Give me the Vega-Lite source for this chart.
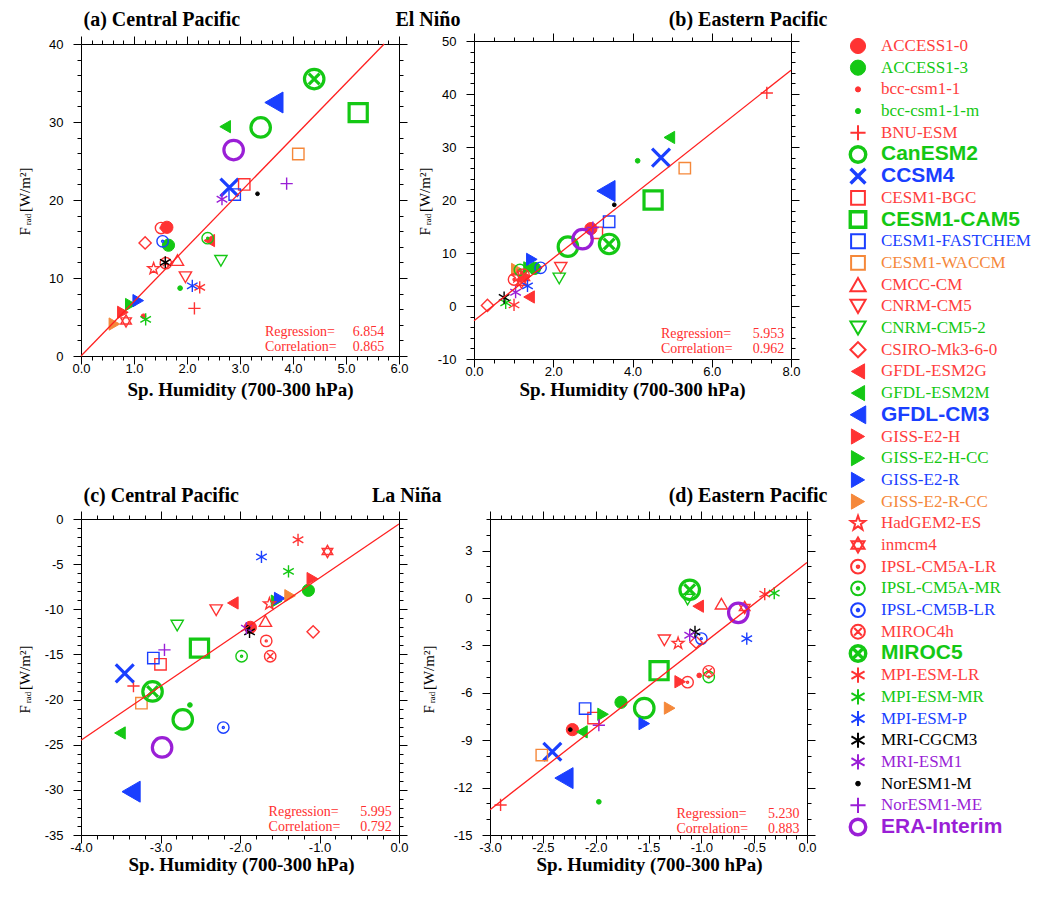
{
"$schema":"https://vega.github.io/schema/vega-lite/v6.json",
"background":"white",
"padding":{"left":16,"top":8,"right":0,"bottom":0},
"datasets":{
"models":[{"m":"ACCESS1-0"},{"m":"ACCESS1-3"},{"m":"bcc-csm1-1"},{"m":"bcc-csm1-1-m"},{"m":"BNU-ESM"},{"m":"CanESM2"},{"m":"CCSM4"},{"m":"CESM1-BGC"},{"m":"CESM1-CAM5"},{"m":"CESM1-FASTCHEM"},{"m":"CESM1-WACCM"},{"m":"CMCC-CM"},{"m":"CNRM-CM5"},{"m":"CNRM-CM5-2"},{"m":"CSIRO-Mk3-6-0"},{"m":"GFDL-ESM2G"},{"m":"GFDL-ESM2M"},{"m":"GFDL-CM3"},{"m":"GISS-E2-H"},{"m":"GISS-E2-H-CC"},{"m":"GISS-E2-R"},{"m":"GISS-E2-R-CC"},{"m":"HadGEM2-ES"},{"m":"inmcm4"},{"m":"IPSL-CM5A-LR"},{"m":"IPSL-CM5A-MR"},{"m":"IPSL-CM5B-LR"},{"m":"MIROC4h"},{"m":"MIROC5"},{"m":"MPI-ESM-LR"},{"m":"MPI-ESM-MR"},{"m":"MPI-ESM-P"},{"m":"MRI-CGCM3"},{"m":"MRI-ESM1"},{"m":"NorESM1-M"},{"m":"NorESM1-ME"},{"m":"ERA-Interim"}],
"pts":[
{"p":"a","m":"ACCESS1-0","x":1.62,"y":16.5},{"p":"a","m":"ACCESS1-3","x":1.65,"y":14.2},{"p":"a","m":"bcc-csm1-1","x":1.18,"y":5.1},{"p":"a","m":"bcc-csm1-1-m","x":1.87,"y":8.7},{"p":"a","m":"BNU-ESM","x":2.14,"y":6.1},{"p":"a","m":"CanESM2","x":3.39,"y":29.3},{"p":"a","m":"CCSM4","x":2.8,"y":21.6},{"p":"a","m":"CESM1-BGC","x":3.08,"y":22.0},{"p":"a","m":"CESM1-CAM5","x":5.23,"y":31.2},{"p":"a","m":"CESM1-FASTCHEM","x":2.9,"y":20.7},{"p":"a","m":"CESM1-WACCM","x":4.1,"y":25.9},{"p":"a","m":"CMCC-CM","x":1.82,"y":12.3},{"p":"a","m":"CNRM-CM5","x":1.97,"y":10.1},{"p":"a","m":"CNRM-CM5-2","x":2.64,"y":12.2},{"p":"a","m":"CSIRO-Mk3-6-0","x":1.21,"y":14.5},{"p":"a","m":"GFDL-ESM2G","x":2.42,"y":14.8},{"p":"a","m":"GFDL-ESM2M","x":2.72,"y":29.4},{"p":"a","m":"GFDL-CM3","x":3.64,"y":32.5},{"p":"a","m":"GISS-E2-H","x":0.79,"y":5.6},{"p":"a","m":"GISS-E2-H-CC","x":0.94,"y":6.6},{"p":"a","m":"GISS-E2-R","x":1.08,"y":7.1},{"p":"a","m":"GISS-E2-R-CC","x":0.63,"y":4.1},{"p":"a","m":"HadGEM2-ES","x":1.37,"y":11.2},{"p":"a","m":"inmcm4","x":0.85,"y":4.5},{"p":"a","m":"IPSL-CM5A-LR","x":1.51,"y":16.4},{"p":"a","m":"IPSL-CM5A-MR","x":2.39,"y":15.1},{"p":"a","m":"IPSL-CM5B-LR","x":1.54,"y":14.7},{"p":"a","m":"MIROC4h","x":1.6,"y":11.9},{"p":"a","m":"MIROC5","x":4.4,"y":35.5},{"p":"a","m":"MPI-ESM-LR","x":2.24,"y":8.8},{"p":"a","m":"MPI-ESM-MR","x":1.22,"y":4.7},{"p":"a","m":"MPI-ESM-P","x":2.1,"y":9.0},{"p":"a","m":"MRI-CGCM3","x":1.59,"y":12.0},{"p":"a","m":"MRI-ESM1","x":2.66,"y":20.1},{"p":"a","m":"NorESM1-M","x":3.33,"y":20.8},{"p":"a","m":"NorESM1-ME","x":3.88,"y":22.1},{"p":"a","m":"ERA-Interim","x":2.88,"y":26.4},
{"p":"b","m":"ACCESS1-0","x":2.95,"y":14.6},{"p":"b","m":"ACCESS1-3","x":1.53,"y":7.1},{"p":"b","m":"bcc-csm1-1","x":1.25,"y":5.5},{"p":"b","m":"bcc-csm1-1-m","x":4.13,"y":27.4},{"p":"b","m":"BNU-ESM","x":7.39,"y":40.2},{"p":"b","m":"CanESM2","x":2.37,"y":11.2},{"p":"b","m":"CCSM4","x":4.72,"y":28.0},{"p":"b","m":"CESM1-BGC","x":3.1,"y":13.8},{"p":"b","m":"CESM1-CAM5","x":4.52,"y":20.0},{"p":"b","m":"CESM1-FASTCHEM","x":3.41,"y":15.9},{"p":"b","m":"CESM1-WACCM","x":5.32,"y":26.0},{"p":"b","m":"CMCC-CM","x":1.25,"y":5.8},{"p":"b","m":"CNRM-CM5","x":2.19,"y":7.2},{"p":"b","m":"CNRM-CM5-2","x":2.15,"y":5.2},{"p":"b","m":"CSIRO-Mk3-6-0","x":0.34,"y":0.1},{"p":"b","m":"GFDL-ESM2G","x":1.39,"y":1.7},{"p":"b","m":"GFDL-ESM2M","x":4.93,"y":31.8},{"p":"b","m":"GFDL-CM3","x":3.33,"y":21.7},{"p":"b","m":"GISS-E2-H","x":1.3,"y":5.6},{"p":"b","m":"GISS-E2-H-CC","x":1.39,"y":7.2},{"p":"b","m":"GISS-E2-R","x":1.46,"y":8.8},{"p":"b","m":"GISS-E2-R-CC","x":1.08,"y":6.9},{"p":"b","m":"HadGEM2-ES","x":1.1,"y":5.5},{"p":"b","m":"inmcm4","x":1.2,"y":4.5},{"p":"b","m":"IPSL-CM5A-LR","x":1.01,"y":5.0},{"p":"b","m":"IPSL-CM5A-MR","x":1.16,"y":6.8},{"p":"b","m":"IPSL-CM5B-LR","x":1.68,"y":7.2},{"p":"b","m":"MIROC4h","x":1.25,"y":5.9},{"p":"b","m":"MIROC5","x":3.41,"y":11.7},{"p":"b","m":"MPI-ESM-LR","x":1.01,"y":0.2},{"p":"b","m":"MPI-ESM-MR","x":0.8,"y":0.6},{"p":"b","m":"MPI-ESM-P","x":1.35,"y":3.8},{"p":"b","m":"MRI-CGCM3","x":0.76,"y":1.6},{"p":"b","m":"MRI-ESM1","x":1.05,"y":2.6},{"p":"b","m":"NorESM1-M","x":3.54,"y":19.1},{"p":"b","m":"NorESM1-ME","x":3.0,"y":14.8},{"p":"b","m":"ERA-Interim","x":2.74,"y":12.6},
{"p":"c","m":"ACCESS1-0","x":-1.87,"y":-12.0},{"p":"c","m":"ACCESS1-3","x":-1.14,"y":-7.9},{"p":"c","m":"bcc-csm1-1","x":-1.85,"y":-12.2},{"p":"c","m":"bcc-csm1-1-m","x":-2.63,"y":-20.6},{"p":"c","m":"BNU-ESM","x":-3.34,"y":-18.5},{"p":"c","m":"CanESM2","x":-2.72,"y":-22.2},{"p":"c","m":"CCSM4","x":-3.45,"y":-17.1},{"p":"c","m":"CESM1-BGC","x":-3.0,"y":-16.1},{"p":"c","m":"CESM1-CAM5","x":-2.51,"y":-14.3},{"p":"c","m":"CESM1-FASTCHEM","x":-3.09,"y":-15.4},{"p":"c","m":"CESM1-WACCM","x":-3.24,"y":-20.4},{"p":"c","m":"CMCC-CM","x":-1.68,"y":-11.3},{"p":"c","m":"CNRM-CM5","x":-2.3,"y":-10.1},{"p":"c","m":"CNRM-CM5-2","x":-2.79,"y":-11.8},{"p":"c","m":"CSIRO-Mk3-6-0","x":-1.08,"y":-12.5},{"p":"c","m":"GFDL-ESM2G","x":-2.09,"y":-9.3},{"p":"c","m":"GFDL-ESM2M","x":-3.51,"y":-23.7},{"p":"c","m":"GFDL-CM3","x":-3.37,"y":-30.2},{"p":"c","m":"GISS-E2-H","x":-1.09,"y":-6.6},{"p":"c","m":"GISS-E2-H-CC","x":-1.54,"y":-9.1},{"p":"c","m":"GISS-E2-R","x":-1.5,"y":-8.8},{"p":"c","m":"GISS-E2-R-CC","x":-1.37,"y":-8.5},{"p":"c","m":"HadGEM2-ES","x":-1.63,"y":-9.4},{"p":"c","m":"inmcm4","x":-0.9,"y":-3.6},{"p":"c","m":"IPSL-CM5A-LR","x":-1.67,"y":-13.5},{"p":"c","m":"IPSL-CM5A-MR","x":-1.98,"y":-15.2},{"p":"c","m":"IPSL-CM5B-LR","x":-2.21,"y":-23.1},{"p":"c","m":"MIROC4h","x":-1.62,"y":-15.2},{"p":"c","m":"MIROC5","x":-3.1,"y":-19.1},{"p":"c","m":"MPI-ESM-LR","x":-1.27,"y":-2.3},{"p":"c","m":"MPI-ESM-MR","x":-1.39,"y":-5.8},{"p":"c","m":"MPI-ESM-P","x":-1.73,"y":-4.2},{"p":"c","m":"MRI-CGCM3","x":-1.88,"y":-12.5},{"p":"c","m":"MRI-ESM1","x":-1.92,"y":-12.1},{"p":"c","m":"NorESM1-M","x":-1.9,"y":-12.0},{"p":"c","m":"NorESM1-ME","x":-2.95,"y":-14.5},{"p":"c","m":"ERA-Interim","x":-2.98,"y":-25.3},
{"p":"d","m":"ACCESS1-0","x":-2.22,"y":-8.33},{"p":"d","m":"ACCESS1-3","x":-1.76,"y":-6.6},{"p":"d","m":"bcc-csm1-1","x":-1.02,"y":-4.9},{"p":"d","m":"bcc-csm1-1-m","x":-1.97,"y":-12.9},{"p":"d","m":"BNU-ESM","x":-2.9,"y":-13.1},{"p":"d","m":"CanESM2","x":-1.54,"y":-6.97},{"p":"d","m":"CCSM4","x":-2.41,"y":-9.73},{"p":"d","m":"CESM1-BGC","x":-2.02,"y":-7.6},{"p":"d","m":"CESM1-CAM5","x":-1.4,"y":-4.6},{"p":"d","m":"CESM1-FASTCHEM","x":-2.1,"y":-7.0},{"p":"d","m":"CESM1-WACCM","x":-2.51,"y":-9.94},{"p":"d","m":"CMCC-CM","x":-0.81,"y":-0.36},{"p":"d","m":"CNRM-CM5","x":-1.35,"y":-2.68},{"p":"d","m":"CNRM-CM5-2","x":-1.13,"y":-0.1},{"p":"d","m":"CSIRO-Mk3-6-0","x":-1.05,"y":-2.8},{"p":"d","m":"GFDL-ESM2G","x":-1.03,"y":-0.52},{"p":"d","m":"GFDL-ESM2M","x":-2.13,"y":-8.47},{"p":"d","m":"GFDL-CM3","x":-2.3,"y":-11.4},{"p":"d","m":"GISS-E2-H","x":-1.2,"y":-5.3},{"p":"d","m":"GISS-E2-H-CC","x":-1.93,"y":-7.36},{"p":"d","m":"GISS-E2-R","x":-1.54,"y":-7.95},{"p":"d","m":"GISS-E2-R-CC","x":-1.3,"y":-6.97},{"p":"d","m":"HadGEM2-ES","x":-1.22,"y":-2.87},{"p":"d","m":"inmcm4","x":-0.59,"y":-0.6},{"p":"d","m":"IPSL-CM5A-LR","x":-1.13,"y":-5.33},{"p":"d","m":"IPSL-CM5A-MR","x":-0.93,"y":-5.0},{"p":"d","m":"IPSL-CM5B-LR","x":-1.0,"y":-2.57},{"p":"d","m":"MIROC4h","x":-0.93,"y":-4.64},{"p":"d","m":"MIROC5","x":-1.11,"y":0.52},{"p":"d","m":"MPI-ESM-LR","x":-0.4,"y":0.25},{"p":"d","m":"MPI-ESM-MR","x":-0.31,"y":0.31},{"p":"d","m":"MPI-ESM-P","x":-0.57,"y":-2.57},{"p":"d","m":"MRI-CGCM3","x":-1.06,"y":-2.15},{"p":"d","m":"MRI-ESM1","x":-1.11,"y":-2.36},{"p":"d","m":"NorESM1-M","x":-2.24,"y":-8.33},{"p":"d","m":"NorESM1-ME","x":-1.97,"y":-8.05},{"p":"d","m":"ERA-Interim","x":-0.65,"y":-0.94}
],
"reg":[{"p":"a","x":0,"y":0},{"p":"a","x":5.72,"y":40},{"p":"b","x":0,"y":-2.8},{"p":"b","x":8,"y":44.5},{"p":"c","x":-4,"y":-24.5},{"p":"c","x":0,"y":-0.55},{"p":"d","x":-3,"y":-13.4},{"p":"d","x":0,"y":2.24}],
"notes":[{"p":"a","k":"Regression=\nCorrelation=","v":"6.854\n0.865"},{"p":"b","k":"Regression=\nCorrelation=","v":"5.953\n0.962"},{"p":"c","k":"Regression=\nCorrelation=","v":"5.995\n0.792"},{"p":"d","k":"Regression=\nCorrelation=","v":"5.230\n0.883"}]
},
"hconcat":[
{"vconcat":[
{"hconcat":[
{"width":318,"height":312,
"layer":[
{"data":{"name":"pts"},"transform":[{"filter":"datum.p=='a'"}],"mark":{"type":"point","opacity":1},
"encoding":{
"x":{"field":"x","type":"quantitative","scale":{"domain":[0,6],"nice":false,"zero":false},"axis":{"orient":"bottom","values":[0,0.2,0.4,0.6,0.8,1,1.2,1.4,1.6,1.8,2,2.2,2.4,2.6,2.8,3,3.2,3.4,3.6,3.8,4,4.2,4.4,4.6,4.8,5,5.2,5.4,5.6,5.8,6],"labelExpr":"abs(datum.value-round(datum.value))<1e-6 ? format(datum.value,'.1f') : ''","tickSize":{"condition":{"test":"abs(datum.value-round(datum.value))<1e-6","value":8},"value":4},"labelPadding":-2,"labelFlush":false,"labelOverlap":false,"title":"Sp. Humidity (700-300 hPa)","titleX":159,"titleY":39,"titleAlign":"center","titleBaseline":"alphabetic","titleAngle":0}},
"y":{"field":"y","type":"quantitative","scale":{"domain":[0,40],"nice":false,"zero":false},"axis":{"orient":"left","values":[0,2,4,6,8,10,12,14,16,18,20,22,24,26,28,30,32,34,36,38,40],"labelExpr":"datum.value % 10 == 0 ? '' + datum.value : ''","tickSize":{"condition":{"test":"datum.value % 10 == 0","value":8},"value":4},"labelPadding":10,"labelFlush":false,"labelOverlap":false,"title":"F\u00a0\u00a0\u00a0\u00a0[W/m²]","titleFontWeight":"normal","titleFontSize":15,"titleX":-52,"titleY":157,"titleAngle":-90,"titleAlign":"center","titleBaseline":"alphabetic"}},
"shape":{"field":"m","type":"nominal","legend":null,"scale":{"domain":["ACCESS1-0","ACCESS1-3","bcc-csm1-1","bcc-csm1-1-m","BNU-ESM","CanESM2","CCSM4","CESM1-BGC","CESM1-CAM5","CESM1-FASTCHEM","CESM1-WACCM","CMCC-CM","CNRM-CM5","CNRM-CM5-2","CSIRO-Mk3-6-0","GFDL-ESM2G","GFDL-ESM2M","GFDL-CM3","GISS-E2-H","GISS-E2-H-CC","GISS-E2-R","GISS-E2-R-CC","HadGEM2-ES","inmcm4","IPSL-CM5A-LR","IPSL-CM5A-MR","IPSL-CM5B-LR","MIROC4h","MIROC5","MPI-ESM-LR","MPI-ESM-MR","MPI-ESM-P","MRI-CGCM3","MRI-ESM1","NorESM1-M","NorESM1-ME","ERA-Interim"],"range":["circle","circle","circle","circle","M0,-1L0,1M-1,0L1,0","circle","M-1,-1L1,1M1,-1L-1,1","square","square","square","square","triangle-up","triangle-down","triangle-down","diamond","triangle-left","triangle-left","triangle-left","triangle-right","triangle-right","triangle-right","triangle-right","M0,-1L0.235,-0.324L0.951,-0.309L0.38,0.124L0.588,0.809L0,0.4L-0.588,0.809L-0.38,0.124L-0.951,-0.309L-0.235,-0.324Z","M0,-1L0.866,0.5L-0.866,0.5ZM0,1L0.866,-0.5L-0.866,-0.5Z","M1,0A1,1,0,1,1,-1,0A1,1,0,1,1,1,0ZM0.18,0A0.18,0.18,0,1,1,-0.18,0A0.18,0.18,0,1,1,0.18,0Z","M1,0A1,1,0,1,1,-1,0A1,1,0,1,1,1,0ZM0.18,0A0.18,0.18,0,1,1,-0.18,0A0.18,0.18,0,1,1,0.18,0Z","M1,0A1,1,0,1,1,-1,0A1,1,0,1,1,1,0ZM0.18,0A0.18,0.18,0,1,1,-0.18,0A0.18,0.18,0,1,1,0.18,0Z","M1,0A1,1,0,1,1,-1,0A1,1,0,1,1,1,0ZM-0.55,-0.55L0.55,0.55M0.55,-0.55L-0.55,0.55","M1,0A1,1,0,1,1,-1,0A1,1,0,1,1,1,0ZM-0.55,-0.55L0.55,0.55M0.55,-0.55L-0.55,0.55","M0,-1L0,1M-0.866,-0.5L0.866,0.5M-0.866,0.5L0.866,-0.5","M0,-1L0,1M-0.866,-0.5L0.866,0.5M-0.866,0.5L0.866,-0.5","M0,-1L0,1M-0.866,-0.5L0.866,0.5M-0.866,0.5L0.866,-0.5","M0,-1L0,1M-0.866,-0.5L0.866,0.5M-0.866,0.5L0.866,-0.5","M0,-1L0,1M-0.866,-0.5L0.866,0.5M-0.866,0.5L0.866,-0.5","circle","M0,-1L0,1M-1,0L1,0","circle"]}},
"fill":{"field":"m","type":"nominal","legend":null,"scale":{"domain":["ACCESS1-0","ACCESS1-3","bcc-csm1-1","bcc-csm1-1-m","BNU-ESM","CanESM2","CCSM4","CESM1-BGC","CESM1-CAM5","CESM1-FASTCHEM","CESM1-WACCM","CMCC-CM","CNRM-CM5","CNRM-CM5-2","CSIRO-Mk3-6-0","GFDL-ESM2G","GFDL-ESM2M","GFDL-CM3","GISS-E2-H","GISS-E2-H-CC","GISS-E2-R","GISS-E2-R-CC","HadGEM2-ES","inmcm4","IPSL-CM5A-LR","IPSL-CM5A-MR","IPSL-CM5B-LR","MIROC4h","MIROC5","MPI-ESM-LR","MPI-ESM-MR","MPI-ESM-P","MRI-CGCM3","MRI-ESM1","NorESM1-M","NorESM1-ME","ERA-Interim"],"range":["#ff3333","#14c814","#ff3333","#14c814","transparent","transparent","transparent","transparent","transparent","transparent","transparent","transparent","transparent","transparent","transparent","#ff3333","#14c814","#1a3fff","#ff3333","#14c814","#1a3fff","#f5883a","transparent","transparent","transparent","transparent","transparent","transparent","transparent","transparent","transparent","transparent","transparent","transparent","#000000","transparent","transparent"]}},
"stroke":{"field":"m","type":"nominal","legend":null,"scale":{"domain":["ACCESS1-0","ACCESS1-3","bcc-csm1-1","bcc-csm1-1-m","BNU-ESM","CanESM2","CCSM4","CESM1-BGC","CESM1-CAM5","CESM1-FASTCHEM","CESM1-WACCM","CMCC-CM","CNRM-CM5","CNRM-CM5-2","CSIRO-Mk3-6-0","GFDL-ESM2G","GFDL-ESM2M","GFDL-CM3","GISS-E2-H","GISS-E2-H-CC","GISS-E2-R","GISS-E2-R-CC","HadGEM2-ES","inmcm4","IPSL-CM5A-LR","IPSL-CM5A-MR","IPSL-CM5B-LR","MIROC4h","MIROC5","MPI-ESM-LR","MPI-ESM-MR","MPI-ESM-P","MRI-CGCM3","MRI-ESM1","NorESM1-M","NorESM1-ME","ERA-Interim"],"range":["#ff3333","#14c814","#ff3333","#14c814","#ff3333","#14c814","#1a3fff","#ff3333","#14c814","#1a3fff","#f5883a","#ff3333","#ff3333","#14c814","#ff3333","#ff3333","#14c814","#1a3fff","#ff3333","#14c814","#1a3fff","#f5883a","#ff3333","#ff3333","#ff3333","#14c814","#1a3fff","#ff3333","#14c814","#ff3333","#14c814","#1a3fff","#000000","#9a1fd6","#000000","#9a1fd6","#9a1fd6"]}},
"size":{"condition":[{"test":"indexof(['CanESM2','MIROC5','ERA-Interim'],datum.m)>=0","value":380},{"test":"datum.m=='CCSM4'","value":320},{"test":"datum.m=='CESM1-CAM5'","value":330},{"test":"datum.m=='GFDL-CM3'","value":440},{"test":"indexof(['bcc-csm1-1','bcc-csm1-1-m'],datum.m)>=0","value":22},{"test":"datum.m=='NorESM1-M'","value":14},{"test":"indexof(['CESM1-BGC','CESM1-FASTCHEM','CESM1-WACCM','IPSL-CM5A-LR','IPSL-CM5A-MR','IPSL-CM5B-LR','MIROC4h'],datum.m)>=0","value":130}],"value":150},
"strokeWidth":{"condition":[{"test":"indexof(['CanESM2','CCSM4','CESM1-CAM5','MIROC5','ERA-Interim'],datum.m)>=0","value":3.2},{"test":"indexof(['ACCESS1-0','ACCESS1-3','bcc-csm1-1','bcc-csm1-1-m','NorESM1-M','GFDL-ESM2G','GFDL-ESM2M','GFDL-CM3','GISS-E2-H','GISS-E2-H-CC','GISS-E2-R','GISS-E2-R-CC'],datum.m)>=0","value":1}],"value":1.4}
}},
{"data":{"name":"reg"},"transform":[{"filter":"datum.p=='a'"}],"mark":{"type":"line","color":"#ff2020","strokeWidth":1.3},
"encoding":{"x":{"field":"x","type":"quantitative","axis":{"orient":"top","values":[0,0.2,0.4,0.6,0.8,1,1.2,1.4,1.6,1.8,2,2.2,2.4,2.6,2.8,3,3.2,3.4,3.6,3.8,4,4.2,4.4,4.6,4.8,5,5.2,5.4,5.6,5.8,6],"labels":false,"tickSize":{"condition":{"test":"abs(datum.value-round(datum.value))<1e-6","value":8},"value":4},"title":"El Niño","titleX":379,"titleY":-19,"titleAlign":"right","titleBaseline":"alphabetic","titleAngle":0,"titleFontSize":20}},
"y":{"field":"y","type":"quantitative","axis":{"orient":"right","values":[0,2,4,6,8,10,12,14,16,18,20,22,24,26,28,30,32,34,36,38,40],"labels":false,"tickSize":{"condition":{"test":"datum.value % 10 == 0","value":8},"value":4},"title":"rad","titleFontSize":9,"titleFontWeight":"normal","titleAngle":-90,"titleX":-372,"titleY":175,"titleAlign":"center","titleBaseline":"middle"}}}},
{"data":{"name":"notes"},"transform":[{"filter":"datum.p=='a'"}],"mark":{"type":"text","align":"left","baseline":"middle","lineBreak":"\n","lineHeight":15,"font":"Liberation Serif","fontSize":14,"color":"#ff3030"},
"encoding":{"x":{"datum":3.47,"type":"quantitative","axis":{"orient":"top","values":[],"ticks":false,"labels":false,"title":"(a) Central Pacific","titleX":2,"titleY":-19,"titleAlign":"left","titleBaseline":"alphabetic","titleAngle":0,"titleFontSize":20}},"y":{"datum":3.14,"type":"quantitative","axis":null},"text":{"field":"k"}}},
{"data":{"name":"notes"},"transform":[{"filter":"datum.p=='a'"}],"mark":{"type":"text","align":"right","baseline":"middle","lineBreak":"\n","lineHeight":15,"font":"Liberation Serif","fontSize":14,"color":"#ff3030"},
"encoding":{"x":{"datum":5.72,"type":"quantitative","axis":null},"y":{"datum":3.14,"type":"quantitative","axis":null},"text":{"field":"v"}}}
],
"resolve":{"axis":{"x":"independent","y":"independent"}}},
{"width":317,"height":318,
"layer":[
{"data":{"name":"pts"},"transform":[{"filter":"datum.p=='b'"}],"mark":{"type":"point","opacity":1},
"encoding":{
"x":{"field":"x","type":"quantitative","scale":{"domain":[0,8],"nice":false,"zero":false},"axis":{"orient":"bottom","values":[0,0.5,1,1.5,2,2.5,3,3.5,4,4.5,5,5.5,6,6.5,7,7.5,8],"labelExpr":"datum.value % 2 == 0 ? format(datum.value,'.1f') : ''","tickSize":{"condition":{"test":"datum.value % 2 == 0","value":8},"value":4},"labelPadding":-2,"labelFlush":false,"labelOverlap":false,"title":"Sp. Humidity (700-300 hPa)","titleX":158,"titleY":36,"titleAlign":"center","titleBaseline":"alphabetic","titleAngle":0}},
"y":{"field":"y","type":"quantitative","scale":{"domain":[-10,50],"nice":false,"zero":false},"axis":{"orient":"left","values":[-10,-8,-6,-4,-2,0,2,4,6,8,10,12,14,16,18,20,22,24,26,28,30,32,34,36,38,40,42,44,46,48,50],"labelExpr":"datum.value % 10 == 0 ? '' + datum.value : ''","tickSize":{"condition":{"test":"datum.value % 10 == 0","value":8},"value":4},"labelPadding":10,"labelFlush":false,"labelOverlap":false,"title":"F\u00a0\u00a0\u00a0\u00a0[W/m²]","titleFontWeight":"normal","titleFontSize":15,"titleX":-45,"titleY":160,"titleAngle":-90,"titleAlign":"center","titleBaseline":"alphabetic"}},
"shape":{"field":"m","type":"nominal","legend":null},
"fill":{"field":"m","type":"nominal","legend":null},
"stroke":{"field":"m","type":"nominal","legend":null},
"size":{"condition":[{"test":"indexof(['CanESM2','MIROC5','ERA-Interim'],datum.m)>=0","value":380},{"test":"datum.m=='CCSM4'","value":320},{"test":"datum.m=='CESM1-CAM5'","value":330},{"test":"datum.m=='GFDL-CM3'","value":440},{"test":"indexof(['bcc-csm1-1','bcc-csm1-1-m'],datum.m)>=0","value":22},{"test":"datum.m=='NorESM1-M'","value":14},{"test":"indexof(['CESM1-BGC','CESM1-FASTCHEM','CESM1-WACCM','IPSL-CM5A-LR','IPSL-CM5A-MR','IPSL-CM5B-LR','MIROC4h'],datum.m)>=0","value":130}],"value":150},
"strokeWidth":{"condition":[{"test":"indexof(['CanESM2','CCSM4','CESM1-CAM5','MIROC5','ERA-Interim'],datum.m)>=0","value":3.2},{"test":"indexof(['ACCESS1-0','ACCESS1-3','bcc-csm1-1','bcc-csm1-1-m','NorESM1-M','GFDL-ESM2G','GFDL-ESM2M','GFDL-CM3','GISS-E2-H','GISS-E2-H-CC','GISS-E2-R','GISS-E2-R-CC'],datum.m)>=0","value":1}],"value":1.4}
}},
{"data":{"name":"reg"},"transform":[{"filter":"datum.p=='b'"}],"mark":{"type":"line","color":"#ff2020","strokeWidth":1.3},
"encoding":{"x":{"field":"x","type":"quantitative","axis":{"orient":"top","values":[0,0.5,1,1.5,2,2.5,3,3.5,4,4.5,5,5.5,6,6.5,7,7.5,8],"labels":false,"tickSize":{"condition":{"test":"datum.value % 2 == 0","value":8},"value":4},"title":"(b) Eastern Pacific","titleX":353,"titleY":-16,"titleAlign":"right","titleBaseline":"alphabetic","titleAngle":0,"titleFontSize":20}},
"y":{"field":"y","type":"quantitative","axis":{"orient":"right","values":[-10,-8,-6,-4,-2,0,2,4,6,8,10,12,14,16,18,20,22,24,26,28,30,32,34,36,38,40,42,44,46,48,50],"labels":false,"tickSize":{"condition":{"test":"datum.value % 10 == 0","value":8},"value":4},"title":"rad","titleFontSize":9,"titleFontWeight":"normal","titleAngle":-90,"titleX":-364,"titleY":178,"titleAlign":"center","titleBaseline":"middle"}}}},
{"data":{"name":"notes"},"transform":[{"filter":"datum.p=='b'"}],"mark":{"type":"text","align":"left","baseline":"middle","lineBreak":"\n","lineHeight":15,"font":"Liberation Serif","fontSize":14,"color":"#ff3030"},
"encoding":{"x":{"datum":4.72,"type":"quantitative","axis":null},"y":{"datum":-5.3,"type":"quantitative","axis":null},"text":{"field":"k"}}},
{"data":{"name":"notes"},"transform":[{"filter":"datum.p=='b'"}],"mark":{"type":"text","align":"right","baseline":"middle","lineBreak":"\n","lineHeight":15,"font":"Liberation Serif","fontSize":14,"color":"#ff3030"},
"encoding":{"x":{"datum":7.83,"type":"quantitative","axis":null},"y":{"datum":-5.3,"type":"quantitative","axis":null},"text":{"field":"v"}}}
],
"resolve":{"axis":{"x":"independent","y":"independent"}}}
],"spacing":75,"center":true,"bounds":"flush"},
{"hconcat":[
{"width":318,"height":316,
"layer":[
{"data":{"name":"pts"},"transform":[{"filter":"datum.p=='c'"}],"mark":{"type":"point","opacity":1},
"encoding":{
"x":{"field":"x","type":"quantitative","scale":{"domain":[-4,0],"nice":false,"zero":false},"axis":{"orient":"bottom","values":[-4,-3.8,-3.6,-3.4,-3.2,-3,-2.8,-2.6,-2.4,-2.2,-2,-1.8,-1.6,-1.4,-1.2,-1,-0.8,-0.6,-0.4,-0.2,0],"labelExpr":"abs(datum.value-round(datum.value))<1e-6 ? replace(format(datum.value,'.1f'),'−','-') : ''","tickSize":{"condition":{"test":"abs(datum.value-round(datum.value))<1e-6","value":8},"value":4},"labelPadding":-2,"labelFlush":false,"labelOverlap":false,"title":"Sp. Humidity (700-300 hPa)","titleX":160,"titleY":35,"titleAlign":"center","titleBaseline":"alphabetic","titleAngle":0}},
"y":{"field":"y","type":"quantitative","scale":{"domain":[-35,0],"nice":false,"zero":false},"axis":{"orient":"left","values":[-35,-34,-33,-32,-31,-30,-29,-28,-27,-26,-25,-24,-23,-22,-21,-20,-19,-18,-17,-16,-15,-14,-13,-12,-11,-10,-9,-8,-7,-6,-5,-4,-3,-2,-1,0],"labelExpr":"datum.value % 5 == 0 ? '' + datum.value : ''","tickSize":{"condition":{"test":"datum.value % 5 == 0","value":8},"value":4},"labelPadding":10,"labelFlush":false,"labelOverlap":false,"title":"F\u00a0\u00a0\u00a0\u00a0[W/m²]","titleFontWeight":"normal","titleFontSize":15,"titleX":-52,"titleY":160,"titleAngle":-90,"titleAlign":"center","titleBaseline":"alphabetic"}},
"shape":{"field":"m","type":"nominal","legend":null},
"fill":{"field":"m","type":"nominal","legend":null},
"stroke":{"field":"m","type":"nominal","legend":null},
"size":{"condition":[{"test":"indexof(['CanESM2','MIROC5','ERA-Interim'],datum.m)>=0","value":380},{"test":"datum.m=='CCSM4'","value":320},{"test":"datum.m=='CESM1-CAM5'","value":330},{"test":"datum.m=='GFDL-CM3'","value":440},{"test":"indexof(['bcc-csm1-1','bcc-csm1-1-m'],datum.m)>=0","value":22},{"test":"datum.m=='NorESM1-M'","value":14},{"test":"indexof(['CESM1-BGC','CESM1-FASTCHEM','CESM1-WACCM','IPSL-CM5A-LR','IPSL-CM5A-MR','IPSL-CM5B-LR','MIROC4h'],datum.m)>=0","value":130}],"value":150},
"strokeWidth":{"condition":[{"test":"indexof(['CanESM2','CCSM4','CESM1-CAM5','MIROC5','ERA-Interim'],datum.m)>=0","value":3.2},{"test":"indexof(['ACCESS1-0','ACCESS1-3','bcc-csm1-1','bcc-csm1-1-m','NorESM1-M','GFDL-ESM2G','GFDL-ESM2M','GFDL-CM3','GISS-E2-H','GISS-E2-H-CC','GISS-E2-R','GISS-E2-R-CC'],datum.m)>=0","value":1}],"value":1.4}
}},
{"data":{"name":"reg"},"transform":[{"filter":"datum.p=='c'"}],"mark":{"type":"line","color":"#ff2020","strokeWidth":1.3},
"encoding":{"x":{"field":"x","type":"quantitative","axis":{"orient":"top","values":[-4,-3.8,-3.6,-3.4,-3.2,-3,-2.8,-2.6,-2.4,-2.2,-2,-1.8,-1.6,-1.4,-1.2,-1,-0.8,-0.6,-0.4,-0.2,0],"labels":false,"tickSize":{"condition":{"test":"abs(datum.value-round(datum.value))<1e-6","value":8},"value":4},"title":"La Niña","titleX":360,"titleY":-18,"titleAlign":"right","titleBaseline":"alphabetic","titleAngle":0,"titleFontSize":20}},
"y":{"field":"y","type":"quantitative","axis":{"orient":"right","values":[-35,-34,-33,-32,-31,-30,-29,-28,-27,-26,-25,-24,-23,-22,-21,-20,-19,-18,-17,-16,-15,-14,-13,-12,-11,-10,-9,-8,-7,-6,-5,-4,-3,-2,-1,0],"labels":false,"tickSize":{"condition":{"test":"datum.value % 5 == 0","value":8},"value":4},"title":"rad","titleFontSize":9,"titleFontWeight":"normal","titleAngle":-90,"titleX":-372,"titleY":178,"titleAlign":"center","titleBaseline":"middle"}}}},
{"data":{"name":"notes"},"transform":[{"filter":"datum.p=='c'"}],"mark":{"type":"text","align":"left","baseline":"middle","lineBreak":"\n","lineHeight":15,"font":"Liberation Serif","fontSize":14,"color":"#ff3030"},
"encoding":{"x":{"datum":-1.64,"type":"quantitative","axis":{"orient":"top","values":[],"ticks":false,"labels":false,"title":"(c) Central Pacific","titleX":2,"titleY":-18,"titleAlign":"left","titleBaseline":"alphabetic","titleAngle":0,"titleFontSize":20}},"y":{"datum":-32.4,"type":"quantitative","axis":null},"text":{"field":"k"}}},
{"data":{"name":"notes"},"transform":[{"filter":"datum.p=='c'"}],"mark":{"type":"text","align":"right","baseline":"middle","lineBreak":"\n","lineHeight":15,"font":"Liberation Serif","fontSize":14,"color":"#ff3030"},
"encoding":{"x":{"datum":-0.09,"type":"quantitative","axis":null},"y":{"datum":-32.4,"type":"quantitative","axis":null},"text":{"field":"v"}}}
],
"resolve":{"axis":{"x":"independent","y":"independent"}}},
{"width":317,"height":316,
"layer":[
{"data":{"name":"pts"},"transform":[{"filter":"datum.p=='d'"}],"mark":{"type":"point","opacity":1},
"encoding":{
"x":{"field":"x","type":"quantitative","scale":{"domain":[-3,0],"nice":false,"zero":false},"axis":{"orient":"bottom","values":[-3,-2.9,-2.8,-2.7,-2.6,-2.5,-2.4,-2.3,-2.2,-2.1,-2,-1.9,-1.8,-1.7,-1.6,-1.5,-1.4,-1.3,-1.2,-1.1,-1,-0.9,-0.8,-0.7,-0.6,-0.5,-0.4,-0.3,-0.2,-0.1,0],"labelExpr":"abs(datum.value*2-round(datum.value*2))<1e-6 ? replace(format(datum.value,'.1f'),'−','-') : ''","tickSize":{"condition":{"test":"abs(datum.value*2-round(datum.value*2))<1e-6","value":8},"value":4},"labelPadding":-2,"labelFlush":false,"labelOverlap":false,"title":"Sp. Humidity (700-300 hPa)","titleX":159,"titleY":35,"titleAlign":"center","titleBaseline":"alphabetic","titleAngle":0}},
"y":{"field":"y","type":"quantitative","scale":{"domain":[-15,5],"nice":false,"zero":false},"axis":{"orient":"left","values":[-15,-14,-13,-12,-11,-10,-9,-8,-7,-6,-5,-4,-3,-2,-1,0,1,2,3,4,5],"labelExpr":"datum.value % 3 == 0 ? '' + datum.value : ''","tickSize":{"condition":{"test":"datum.value % 3 == 0","value":8},"value":4},"labelPadding":10,"labelFlush":false,"labelOverlap":false,"title":"F\u00a0\u00a0\u00a0\u00a0[W/m²]","titleFontWeight":"normal","titleFontSize":15,"titleX":-57,"titleY":160,"titleAngle":-90,"titleAlign":"center","titleBaseline":"alphabetic"}},
"shape":{"field":"m","type":"nominal","legend":null},
"fill":{"field":"m","type":"nominal","legend":null},
"stroke":{"field":"m","type":"nominal","legend":null},
"size":{"condition":[{"test":"indexof(['CanESM2','MIROC5','ERA-Interim'],datum.m)>=0","value":380},{"test":"datum.m=='CCSM4'","value":320},{"test":"datum.m=='CESM1-CAM5'","value":330},{"test":"datum.m=='GFDL-CM3'","value":440},{"test":"indexof(['bcc-csm1-1','bcc-csm1-1-m'],datum.m)>=0","value":22},{"test":"datum.m=='NorESM1-M'","value":14},{"test":"indexof(['CESM1-BGC','CESM1-FASTCHEM','CESM1-WACCM','IPSL-CM5A-LR','IPSL-CM5A-MR','IPSL-CM5B-LR','MIROC4h'],datum.m)>=0","value":130}],"value":150},
"strokeWidth":{"condition":[{"test":"indexof(['CanESM2','CCSM4','CESM1-CAM5','MIROC5','ERA-Interim'],datum.m)>=0","value":3.2},{"test":"indexof(['ACCESS1-0','ACCESS1-3','bcc-csm1-1','bcc-csm1-1-m','NorESM1-M','GFDL-ESM2G','GFDL-ESM2M','GFDL-CM3','GISS-E2-H','GISS-E2-H-CC','GISS-E2-R','GISS-E2-R-CC'],datum.m)>=0","value":1}],"value":1.4}
}},
{"data":{"name":"reg"},"transform":[{"filter":"datum.p=='d'"}],"mark":{"type":"line","color":"#ff2020","strokeWidth":1.3},
"encoding":{"x":{"field":"x","type":"quantitative","axis":{"orient":"top","values":[-3,-2.9,-2.8,-2.7,-2.6,-2.5,-2.4,-2.3,-2.2,-2.1,-2,-1.9,-1.8,-1.7,-1.6,-1.5,-1.4,-1.3,-1.2,-1.1,-1,-0.9,-0.8,-0.7,-0.6,-0.5,-0.4,-0.3,-0.2,-0.1,0],"labels":false,"tickSize":{"condition":{"test":"abs(datum.value*2-round(datum.value*2))<1e-6","value":8},"value":4},"title":"(d) Eastern Pacific","titleX":337,"titleY":-18,"titleAlign":"right","titleBaseline":"alphabetic","titleAngle":0,"titleFontSize":20}},
"y":{"field":"y","type":"quantitative","axis":{"orient":"right","values":[-15,-14,-13,-12,-11,-10,-9,-8,-7,-6,-5,-4,-3,-2,-1,0,1,2,3,4,5],"labels":false,"tickSize":{"condition":{"test":"datum.value % 3 == 0","value":8},"value":4},"title":"rad","titleFontSize":9,"titleFontWeight":"normal","titleAngle":-90,"titleX":-376,"titleY":178,"titleAlign":"center","titleBaseline":"middle"}}}},
{"data":{"name":"notes"},"transform":[{"filter":"datum.p=='d'"}],"mark":{"type":"text","align":"left","baseline":"middle","lineBreak":"\n","lineHeight":15,"font":"Liberation Serif","fontSize":14,"color":"#ff3030"},
"encoding":{"x":{"datum":-1.235,"type":"quantitative","axis":null},"y":{"datum":-13.65,"type":"quantitative","axis":null},"text":{"field":"k"}}},
{"data":{"name":"notes"},"transform":[{"filter":"datum.p=='d'"}],"mark":{"type":"text","align":"right","baseline":"middle","lineBreak":"\n","lineHeight":15,"font":"Liberation Serif","fontSize":14,"color":"#ff3030"},
"encoding":{"x":{"datum":-0.07,"type":"quantitative","axis":null},"y":{"datum":-13.65,"type":"quantitative","axis":null},"text":{"field":"v"}}}
],
"resolve":{"axis":{"x":"independent","y":"independent"}}}
],"spacing":91,"bounds":"flush"}
],"spacing":84},
{"width":200,"height":791,"view":{"stroke":"transparent"},
"data":{"name":"models"},
"layer":[
{"mark":{"type":"point","opacity":1},
"encoding":{"x":{"datum":0.5,"type":"quantitative","scale":{"domain":[0,10],"nice":false,"zero":false},"axis":null},
"y":{"field":"m","type":"nominal","sort":null,"axis":null,"scale":{"type":"point","padding":0.23,"domain":["ACCESS1-0","ACCESS1-3","bcc-csm1-1","bcc-csm1-1-m","BNU-ESM","CanESM2","CCSM4","CESM1-BGC","CESM1-CAM5","CESM1-FASTCHEM","CESM1-WACCM","CMCC-CM","CNRM-CM5","CNRM-CM5-2","CSIRO-Mk3-6-0","GFDL-ESM2G","GFDL-ESM2M","GFDL-CM3","GISS-E2-H","GISS-E2-H-CC","GISS-E2-R","GISS-E2-R-CC","HadGEM2-ES","inmcm4","IPSL-CM5A-LR","IPSL-CM5A-MR","IPSL-CM5B-LR","MIROC4h","MIROC5","MPI-ESM-LR","MPI-ESM-MR","MPI-ESM-P","MRI-CGCM3","MRI-ESM1","NorESM1-M","NorESM1-ME","ERA-Interim"]}},
"shape":{"field":"m","type":"nominal","legend":null},
"fill":{"field":"m","type":"nominal","legend":null},
"stroke":{"field":"m","type":"nominal","legend":null},
"size":{"condition":[{"test":"indexof(['CanESM2','MIROC5','ERA-Interim'],datum.m)>=0","value":240},{"test":"datum.m=='CCSM4'","value":220},{"test":"datum.m=='CESM1-CAM5'","value":240},{"test":"datum.m=='GFDL-CM3'","value":320},{"test":"indexof(['bcc-csm1-1','bcc-csm1-1-m'],datum.m)>=0","value":26},{"test":"datum.m=='NorESM1-M'","value":22},{"test":"indexof(['CESM1-BGC','CESM1-FASTCHEM','CESM1-WACCM','IPSL-CM5A-LR','IPSL-CM5A-MR','IPSL-CM5B-LR','MIROC4h'],datum.m)>=0","value":190}],"value":230},
"strokeWidth":{"condition":[{"test":"indexof(['CanESM2','CCSM4','CESM1-CAM5','MIROC5','ERA-Interim'],datum.m)>=0","value":3.4},{"test":"indexof(['ACCESS1-0','ACCESS1-3','bcc-csm1-1','bcc-csm1-1-m','NorESM1-M','GFDL-ESM2G','GFDL-ESM2M','GFDL-CM3','GISS-E2-H','GISS-E2-H-CC','GISS-E2-R','GISS-E2-R-CC'],datum.m)>=0","value":1}],"value":2}}},
{"transform":[{"filter":{"not":{"field":"m","oneOf":["CanESM2","CCSM4","CESM1-CAM5","GFDL-CM3","MIROC5","ERA-Interim"]}}}],
"mark":{"type":"text","align":"left","baseline":"middle","font":"Liberation Serif","fontSize":17},
"encoding":{"x":{"datum":1.65,"type":"quantitative","axis":null},"y":{"field":"m","type":"nominal","sort":null,"axis":null},"text":{"field":"m"},
"color":{"field":"m","type":"nominal","legend":null,"scale":{"domain":["ACCESS1-0","ACCESS1-3","bcc-csm1-1","bcc-csm1-1-m","BNU-ESM","CanESM2","CCSM4","CESM1-BGC","CESM1-CAM5","CESM1-FASTCHEM","CESM1-WACCM","CMCC-CM","CNRM-CM5","CNRM-CM5-2","CSIRO-Mk3-6-0","GFDL-ESM2G","GFDL-ESM2M","GFDL-CM3","GISS-E2-H","GISS-E2-H-CC","GISS-E2-R","GISS-E2-R-CC","HadGEM2-ES","inmcm4","IPSL-CM5A-LR","IPSL-CM5A-MR","IPSL-CM5B-LR","MIROC4h","MIROC5","MPI-ESM-LR","MPI-ESM-MR","MPI-ESM-P","MRI-CGCM3","MRI-ESM1","NorESM1-M","NorESM1-ME","ERA-Interim"],"range":["#ff3d3d","#14c814","#ff3d3d","#14c814","#ff3d3d","#14c814","#1a3fff","#ff3d3d","#14c814","#1a3fff","#f5883a","#ff3d3d","#ff3d3d","#14c814","#ff3d3d","#ff3d3d","#14c814","#1a3fff","#ff3d3d","#14c814","#1a3fff","#f5883a","#ff3d3d","#ff3d3d","#ff3d3d","#14c814","#1a3fff","#ff3d3d","#14c814","#ff3d3d","#14c814","#1a3fff","#000000","#9a1fd6","#000000","#9a1fd6","#9a1fd6"]}}}},
{"transform":[{"filter":{"field":"m","oneOf":["CanESM2","CCSM4","CESM1-CAM5","GFDL-CM3","MIROC5","ERA-Interim"]}}],
"mark":{"type":"text","align":"left","baseline":"middle","font":"Liberation Sans","fontSize":21,"fontWeight":"bold"},
"encoding":{"x":{"datum":1.65,"type":"quantitative","axis":null},"y":{"field":"m","type":"nominal","sort":null,"axis":null},"text":{"field":"m"},
"color":{"field":"m","type":"nominal","legend":null}}}
]}
],
"spacing":14,
"config":{
"view":{"stroke":"#000","strokeWidth":1},
"legend":{"disable":true},
"axis":{"labelFont":"Liberation Sans","labelFontSize":13,"labelColor":"#000","tickColor":"#000","tickWidth":1,"titleFont":"Liberation Serif","titleFontSize":19,"titleFontWeight":"bold","titleColor":"#000","grid":false,"domain":false}
}
}
